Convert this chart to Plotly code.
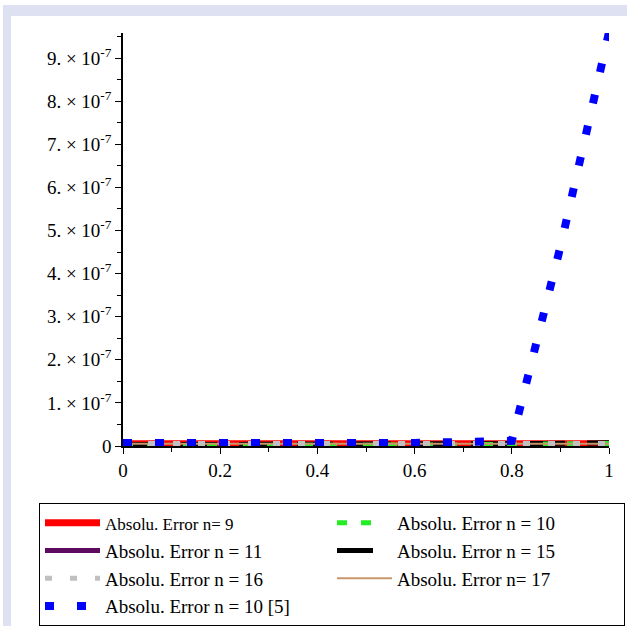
import plotly.graph_objects as go

# ---- data ----
x_grid = [0.0, 0.05, 0.1, 0.15, 0.2, 0.25, 0.3, 0.35, 0.4, 0.45, 0.5,
          0.55, 0.6, 0.65, 0.7, 0.75, 0.8, 0.85, 0.9, 0.95, 1.0]

err_n9 = [5e-9, 5e-9, 5e-9, 5e-9, 4.5e-9, 4.5e-9, 4.5e-9, 4e-9, 4e-9, 3.5e-9, 3e-9,
          2.5e-9, 2e-9, 2.5e-9, 3.5e-9, 4.5e-9, 5e-9, 5e-9, 5e-9, 5e-9, 5e-9]
err_n10 = [0.5e-9, 0.5e-9, 0.5e-9, 0.5e-9, 0.8e-9, 1e-9, 1e-9, 0.8e-9, 0.5e-9, 0.5e-9, 0.5e-9,
           0.5e-9, 1e-9, 1.5e-9, 2.5e-9, 3.5e-9, 4.5e-9, 5e-9, 5.5e-9, 6e-9, 6e-9]
err_n11 = [4e-9, 4e-9, 4e-9, 4e-9, 3.5e-9, 3.5e-9, 3.5e-9, 3e-9, 3e-9, 3e-9, 2.5e-9,
           2.5e-9, 2.5e-9, 3e-9, 3e-9, 3.5e-9, 4e-9, 4e-9, 4.5e-9, 4.5e-9, 5e-9]
err_n15 = [3e-9, 3e-9, 3e-9, 3e-9, 3.5e-9, 4e-9, 4.5e-9, 5e-9, 5e-9, 4.5e-9, 4e-9,
           4e-9, 4.5e-9, 5e-9, 5e-9, 5.5e-9, 5.5e-9, 6e-9, 6.5e-9, 7e-9, 7.5e-9]
err_n16 = [6e-9, 6e-9, 6e-9, 6e-9, 6e-9, 6e-9, 6e-9, 6e-9, 6e-9, 6e-9, 6e-9,
           6e-9, 6e-9, 6e-9, 6e-9, 6e-9, 6e-9, 6e-9, 6e-9, 6e-9, 6e-9]
err_n17 = [5e-9, 5e-9, 5e-9, 5e-9, 5e-9, 5e-9, 5e-9, 4.5e-9, 4.5e-9, 4.5e-9, 4.5e-9,
           4.5e-9, 4.5e-9, 4.5e-9, 5e-9, 5e-9, 5e-9, 5e-9, 5e-9, 5e-9, 5e-9]

x_ref5 = [0.0, 0.2, 0.4, 0.6, 0.8, 0.85, 0.9, 0.95, 1.0]
err_ref5 = [7e-9, 7e-9, 7e-9, 7e-9, 1.2e-8, 2.34e-7, 4.62e-7, 7.1e-7, 9.6e-7]

y_tickvals = [0, 1e-7, 2e-7, 3e-7, 4e-7, 5e-7, 6e-7, 7e-7, 8e-7, 9e-7]
y_ticktext = ["0"] + [f"{k}. \u00d7 10<sup>-7</sup>" for k in range(1, 10)]
x_tickvals = [0, 0.2, 0.4, 0.6, 0.8, 1]
x_ticktext = ["0", "0.2", "0.4", "0.6", "0.8", "1"]

SERIF = "Liberation Serif"

W, H = 627, 626
L, R, T, B = 123, 18, 33, 180
PW, PH = W - L - R, H - T - B

def px_x(p):
    return (p - L) / PW

def px_y(p):
    return (H - B - p) / PH

fig = go.Figure()

# (legend rank, name, x, y, line style) -- listed in drawing order
series = [
    (3, "Absolu. Error n = 11", x_grid, err_n11,
     dict(color="#5e0a5e", width=5, dash="solid")),
    (1, '<span style="font-size:17px">Absolu. Error n= 9</span>', x_grid, err_n9,
     dict(color="#ff0000", width=7, dash="solid")),
    (4, "Absolu. Error n = 15", x_grid, err_n15,
     dict(color="#000000", width=5, dash="36px,22px")),
    (2, "Absolu. Error n = 10", x_grid, err_n10,
     dict(color="#22ee22", width=5, dash="10px,14px,10px,26px")),
    (6, "Absolu. Error n= 17", x_grid, err_n17,
     dict(color="#c8966a", width=2, dash="solid")),
    (5, "Absolu. Error n = 16", x_grid, err_n16,
     dict(color="#c0c0c0", width=5, dash="7px,18px")),
    (7, "Absolu. Error n = 10 [5]", x_ref5, err_ref5,
     dict(color="#0000ff", width=8, dash="9px,23px")),
]

for rank, name, xs, ys, line in series:
    fig.add_trace(go.Scatter(x=xs, y=ys, mode="lines", name=name, line=line,
                             legendrank=rank, hoverinfo="skip"))

shapes = [
    dict(type="rect", xref="paper", yref="paper",
         x0=px_x(3), x1=px_x(11), y0=px_y(626), y1=px_y(5),
         fillcolor="#dde1f1", line=dict(width=0), layer="below"),
    dict(type="rect", xref="paper", yref="paper",
         x0=px_x(3), x1=px_x(627), y0=px_y(16), y1=px_y(5),
         fillcolor="#dde1f1", line=dict(width=0), layer="below"),
]

fig.update_layout(
    width=W, height=H,
    margin=dict(l=L, r=R, t=T, b=B, pad=0, autoexpand=False),
    paper_bgcolor="white", plot_bgcolor="white",
    font=dict(family=SERIF, color="black"),
    shapes=shapes,
    showlegend=True,
    legend=dict(
        orientation="h",
        x=px_x(39), y=px_y(503), xanchor="left", yanchor="top",
        entrywidth=222, entrywidthmode="pixels",
        bordercolor="black", borderwidth=1, bgcolor="white",
        font=dict(family=SERIF, size=19, color="black"),
        traceorder="normal", itemwidth=55,
    ),
    xaxis=dict(
        range=[0, 1], tickmode="array", tickvals=x_tickvals, ticktext=x_ticktext,
        showgrid=False, zeroline=False, showline=True, linecolor="black",
        linewidth=1.5, ticks="outside", ticklen=6, tickcolor="black",
        tickfont=dict(family=SERIF, size=19), fixedrange=True,
        minor=dict(tickmode="linear", tick0=0, dtick=0.1, ticks="outside",
                   ticklen=4, tickcolor="black", showgrid=False),
    ),
    yaxis=dict(
        range=[0, 9.58e-7], tickmode="array", tickvals=y_tickvals,
        ticktext=y_ticktext, showgrid=False, zeroline=False, showline=True,
        linecolor="black", linewidth=1.5, ticks="outside", ticklen=6,
        tickcolor="black", tickfont=dict(family=SERIF, size=19), fixedrange=True,
        minor=dict(tickmode="linear", tick0=0, dtick=5e-8, ticks="outside",
                   ticklen=4, tickcolor="black", showgrid=False),
    ),
)

fig.write_html("out.html", config={"displayModeBar": False},
               post_script="document.body.style.margin='0';document.body.style.overflow='hidden';")
